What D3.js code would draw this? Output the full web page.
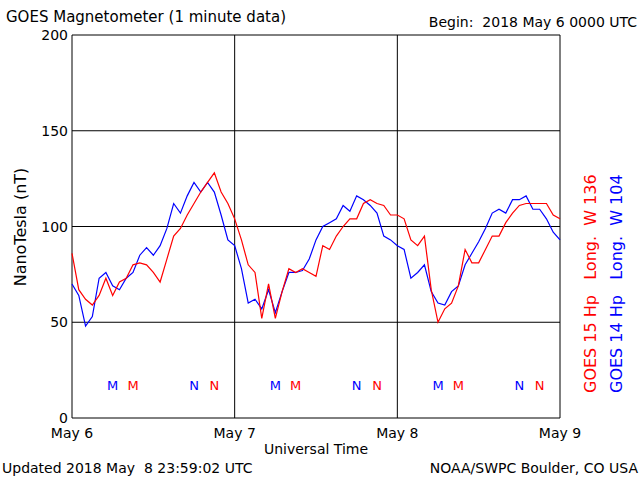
<!DOCTYPE html>
<html>
<head>
<style>
  body { margin: 0; background: #fff; }
  text { font-family: "DejaVu Sans", sans-serif; font-size: 14px; white-space: pre; }
</style>
</head>
<body>
<svg width="640" height="480"></svg>
<script src="https://d3js.org/d3.v7.min.js"></script>
<script>
// hourly readings, hour 0 = 2018 May 6 0000 UTC
var goes15 = [86,67,62,59,64,73,64,71,73,80,81,80,76,71,83,95,99,106,112,118,123,128,118,112,
              104,93,80,76,52,70,52,66,78,76,78,76,74,90,88,95,100,104,104,112,114,112,111,106,
              106,104,93,90,95,67,50,57,60,69,88,81,81,88,95,95,102,107,111,112,112,112,112,106,104];
var goes14 = [70,64,48,53,73,76,69,67,73,76,85,89,85,90,99,112,107,116,123,118,123,118,106,93,
              90,78,60,62,57,67,55,66,76,76,77,83,93,100,102,104,111,108,116,114,111,107,95,93,
              90,88,73,76,80,66,60,59,66,69,80,86,92,99,107,109,107,114,114,116,109,109,104,97,93];
var dayLabels = ["May 6", "May 7", "May 8", "May 9"];
var yTicks = [0, 50, 100, 150, 200];
var marks = [
  {h: 6, t: "M", c: "blue"}, {h: 9, t: "M", c: "red"}, {h: 18, t: "N", c: "blue"}, {h: 21, t: "N", c: "red"},
  {h: 30, t: "M", c: "blue"}, {h: 33, t: "M", c: "red"}, {h: 42, t: "N", c: "blue"}, {h: 45, t: "N", c: "red"},
  {h: 54, t: "M", c: "blue"}, {h: 57, t: "M", c: "red"}, {h: 66, t: "N", c: "blue"}, {h: 69, t: "N", c: "red"}
];

var svg = d3.select("svg");
var x = d3.scaleLinear().domain([0, 72]).range([72, 560]);
var y = d3.scaleLinear().domain([0, 200]).range([418, 35]);

// grid
svg.selectAll(".hg").data(yTicks).enter().append("line")
  .attr("x1", 72).attr("x2", 560).attr("y1", d => y(d)).attr("y2", d => y(d))
  .attr("stroke", "#000");
svg.selectAll(".vg").data(dayLabels).enter().append("line")
  .attr("x1", (d, i) => x(i * 24)).attr("x2", (d, i) => x(i * 24))
  .attr("y1", 35).attr("y2", 418).attr("stroke", "#000");

var line = d3.line().x((d, i) => x(i)).y(d => y(d));
svg.append("path").datum(goes14).attr("d", line).attr("fill", "none").attr("stroke", "blue").attr("stroke-width", 1.2);
svg.append("path").datum(goes15).attr("d", line).attr("fill", "none").attr("stroke", "red").attr("stroke-width", 1.2);

svg.selectAll(".mk").data(marks).enter().append("text")
  .attr("x", d => x(d.h)).attr("y", 390).attr("text-anchor", "middle")
  .attr("fill", d => d.c).style("font-size", "13px").text(d => d.t);

// axis labels
svg.selectAll(".yl").data(yTicks).enter().append("text")
  .attr("x", 68).attr("y", d => y(d) + 5).attr("text-anchor", "end").text(d => d);
svg.selectAll(".xl").data(dayLabels).enter().append("text")
  .attr("x", (d, i) => x(i * 24)).attr("y", 438).attr("text-anchor", "middle").text(d => d);
svg.append("text").attr("x", 316).attr("y", 454).attr("text-anchor", "middle").text("Universal Time");
svg.append("text").attr("transform", "translate(26,227) rotate(-90)").attr("text-anchor", "middle")
  .style("font-size", "16px").text("NanoTesla (nT)");

svg.append("text").attr("x", 6).attr("y", 22).style("font-size", "15px").text("GOES Magnetometer (1 minute data)");
svg.append("text").attr("x", 637).attr("y", 27).attr("text-anchor", "end").text("Begin:  2018 May 6 0000 UTC");
svg.append("text").attr("x", 2).attr("y", 473).text("Updated 2018 May  8 23:59:02 UTC");
svg.append("text").attr("x", 638).attr("y", 473).attr("text-anchor", "end").text("NOAA/SWPC Boulder, CO USA");

svg.append("text").attr("transform", "translate(596,393) rotate(-90)").attr("fill", "red")
  .style("font-size", "16px").text("GOES 15 Hp   Long.  W 136");
svg.append("text").attr("transform", "translate(622,393) rotate(-90)").attr("fill", "blue")
  .style("font-size", "16px").text("GOES 14 Hp   Long.  W 104");
</script>
</body>
</html>
